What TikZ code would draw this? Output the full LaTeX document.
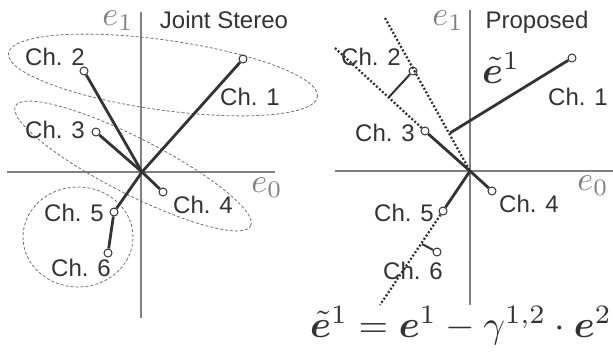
\documentclass[tikz,border=0pt]{standalone}
\usepackage{amsmath,bm,graphicx}
\usepackage{fontspec}
\newfontfamily\labfont{Liberation Sans}
\definecolor{vec}{HTML}{333333}
\definecolor{axis}{HTML}{808080}
\definecolor{ell}{HTML}{707070}
\definecolor{txt}{HTML}{333333}
\newcommand{\myaxm}[1]{\scalebox{3.4}{$#1$}}
\newcommand{\mybigmath}[1]{\scalebox{3.8}{$#1$}}
\tikzset{
  axisline/.style={draw=axis, line width=1.1pt},
  vecline/.style={draw=vec, line width=2.8pt},
  thinvec/.style={draw=vec, line width=2pt},
  dotline/.style={draw=vec, line width=2.3pt, dash pattern=on 2pt off 2pt},
  ellline/.style={draw=ell, line width=0.8pt, dash pattern=on 3pt off 2pt},
  tip/.style={circle, draw=vec, fill=white, line width=1pt, minimum size=8pt, inner sep=0pt},
  chlab/.style={font=\labfont\fontsize{24}{24}\selectfont, text=txt, inner sep=0pt},
  axlab/.style={text=axis, inner sep=0pt},
  mathlab/.style={text=txt, inner sep=0pt}
}
\begin{document}
\begin{tikzpicture}[x=1pt,y=-1pt]
\useasboundingbox (0,0) rectangle (613,351);
% ---------- left panel ----------
\coordinate (OL) at (142,172);
\coordinate (vlt) at (141,12); \coordinate (vlb) at (141,318);
\coordinate (hll) at (7,172); \coordinate (hlr) at (275,172);
\draw[axisline] (vlt) -- (vlb);
\draw[axisline] (hll) -- (hlr);
\draw[ellline, rotate around={-8:(163,75)}] (163,75) ellipse (156pt and 35pt);
\draw[ellline, rotate around={-27:(133,166)}] (133,166) ellipse (132pt and 28pt);
\draw[ellline] (78,237) ellipse (55pt and 50pt);
\node[tip] (l1) at (243,59) {};
\node[tip] (l2) at (84,71) {};
\node[tip] (l3) at (96,132) {};
\node[tip] (l4) at (163,192) {};
\node[tip] (l5) at (114,212) {};
\node[tip] (l6) at (108,253) {};
\draw[vecline] (OL) -- (l1);
\draw[vecline] (OL) -- (l2);
\draw[vecline] (OL) -- (l3);
\draw[vecline] (OL) -- (l4);
\draw[vecline] (OL) -- (l5);
\draw[vecline] (l5) -- (l6);
\node[chlab] (tl1) at (250,97) {Ch. 1};
\node[chlab] (tl2) at (55,57) {Ch. 2};
\node[chlab] (tl3) at (55,130) {Ch. 3};
\node[chlab] (tl4) at (203,205) {Ch. 4};
\node[chlab] (tl5) at (74,213) {Ch. 5};
\node[chlab] (tl6) at (81,268) {Ch. 6};
\node[chlab, anchor=base] (titleL) at (224,28) {Joint Stereo};
\node[axlab] (e1L) at (118,21) {\myaxm{e_1}};
\node[axlab] (e0L) at (267,188) {\myaxm{e_0}};
% ---------- right panel ----------
\coordinate (OR) at (470,171);
\coordinate (vrt) at (470,10); \coordinate (vrb) at (470,305);
\coordinate (hrl) at (335,171); \coordinate (hrr) at (613,171);
\draw[axisline] (vrt) -- (vrb);
\draw[axisline] (hrl) -- (hrr);
\node[tip] (r1) at (572,58) {};
\node[tip] (r2) at (413,71) {};
\node[tip] (r3) at (425,131) {};
\node[tip] (r4) at (492,191) {};
\node[tip] (r5) at (443,211) {};
\node[tip] (r6) at (437,252) {};
\coordinate (d1s) at (385,18);
\coordinate (d2s) at (335,48);
\coordinate (d3e) at (380,305);
\coordinate (p1) at (450,133);
\coordinate (f2) at (389,97);
\coordinate (f6) at (422,244);
\draw[dotline] (d1s) -- (OR);
\draw[dotline] (d2s) -- (r3);
\draw[dotline] (r5) -- (d3e);
\draw[vecline] (p1) -- (r1);
\draw[thinvec] (r2) -- (f2);
\draw[vecline] (r3) -- (OR);
\draw[vecline] (OR) -- (r4);
\draw[vecline] (OR) -- (r5);
\draw[thinvec] (r6) -- (f6);
\node[chlab] (tr1) at (578,97) {Ch. 1};
\node[chlab] (tr2) at (371,57) {Ch. 2};
\node[chlab] (tr3) at (385,133) {Ch. 3};
\node[chlab] (tr4) at (529,204) {Ch. 4};
\node[chlab] (tr5) at (404,213) {Ch. 5};
\node[chlab] (tr6) at (413,271) {Ch. 6};
\node[chlab, anchor=base] (titleR) at (537,28) {Proposed};
\node[axlab] (e1R) at (448,21) {\myaxm{e_1}};
\node[axlab] (e0R) at (593,186) {\myaxm{e_0}};
\node[mathlab, anchor=base west] (etl) at (482,83) {\mybigmath{\tilde{\bm{e}}^1}};
\node[mathlab, anchor=base] (form) at (461,337) {\mybigmath{\tilde{\bm{e}}^1=\bm{e}^1-\gamma^{1,2}\cdot\bm{e}^2}};
\end{tikzpicture}
\end{document}
